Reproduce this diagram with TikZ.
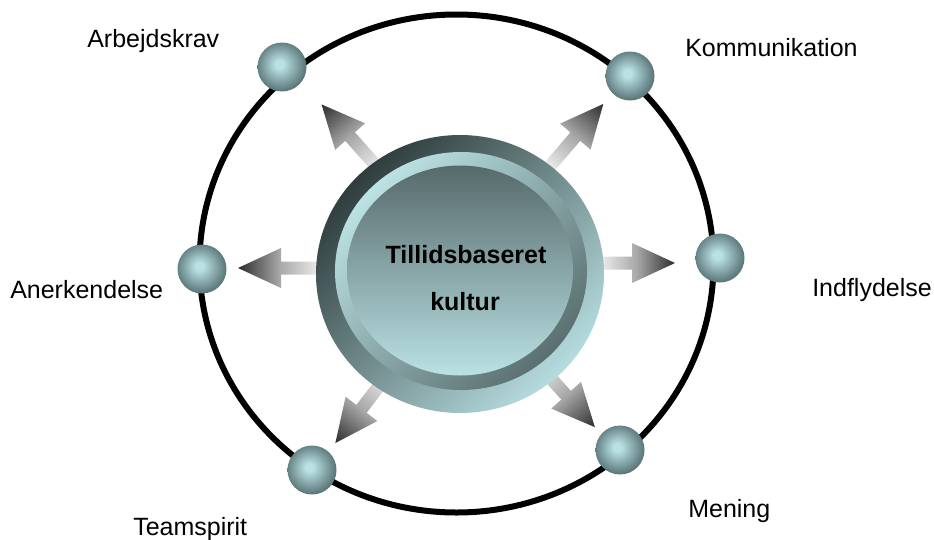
\documentclass[tikz,border=0pt]{standalone}
\usepackage{fontspec}
\setmainfont{Liberation Sans}
\usetikzlibrary{calc}
\definecolor{ballhi}{HTML}{BAE1E3}
\definecolor{ballout}{HTML}{5E7A7D}
\definecolor{arL}{HTML}{EEEEEE}
\definecolor{arM}{HTML}{A6A6A6}
\definecolor{arD}{HTML}{2C2C2C}
\definecolor{discdark}{HTML}{2F3D3D}
\definecolor{disclight}{HTML}{B6DCDF}
\definecolor{bevlight}{HTML}{BCE2E4}
\definecolor{bevdark}{HTML}{5A6F70}
\definecolor{intop}{HTML}{566A6B}
\definecolor{inbot}{HTML}{BAE1E4}
\pgfdeclareradialshading{ballshade}{\pgfpoint{-3bp}{3bp}}{color(0bp)=(ballhi); color(4bp)=(ballhi); color(25bp)=(ballout); color(50bp)=(ballout)}
\pgfdeclarehorizontalshading{arrowshade}{100bp}{color(0bp)=(arL); color(25bp)=(arL); color(50bp)=(arM); color(75bp)=(arD); color(100bp)=(arD)}
\newcommand\gradarrow[3]{%
  \begin{scope}[transform canvas={shift={#1}, rotate=#2}]
    \shade[shading=arrowshade] (0pt,4.875pt) -- ({#3pt-32.25pt},4.875pt) -- ({#3pt-32.25pt},15pt)
      -- (#3pt,0pt) -- ({#3pt-32.25pt},-15pt) -- ({#3pt-32.25pt},-4.875pt) -- (0pt,-4.875pt) -- cycle;
  \end{scope}}
\begin{document}
\begin{tikzpicture}[x=0.75pt, y=-0.75pt,
  ball/.style={circle, inner sep=0pt, minimum size=36.75pt, shade, shading=ballshade},
  lbl/.style={inner sep=0pt, anchor=base west, font=\fontsize{18.75}{22}\selectfont},
  ctr/.style={inner sep=0pt, anchor=base, font=\fontsize{18.75}{22}\selectfont\bfseries}]
\useasboundingbox (0,0) rectangle (934,539);
% outer ring
\coordinate (ringc) at (456.5,263.5);
\draw[line width=4.5pt] (ringc) ellipse [x radius=192.75pt, y radius=186.75pt];
% arrow starts
\coordinate (s1) at (378,168);
\coordinate (s2) at (548,168.5);
\coordinate (s3) at (320,268);
\coordinate (s4) at (600,263);
\coordinate (s5) at (387,375.5);
\coordinate (s6) at (538,364);
\gradarrow{(s1)}{131.6}{63.75}
\gradarrow{(s2)}{49.4}{63.75}
\gradarrow{(s3)}{180}{61.5}
\gradarrow{(s4)}{0}{56.25}
\gradarrow{(s5)}{232.6}{63.75}
\gradarrow{(s6)}{-48}{63.75}
% central disc
\coordinate (dc) at (460,274);
\coordinate (bc) at (461,271);
\coordinate (ic) at (460,270.5);
\shade[top color=discdark, bottom color=disclight, shading angle=45] (dc) ellipse [x radius=108pt, y radius=104.25pt];
\shade[top color=bevlight, bottom color=bevdark, shading angle=45] (bc) ellipse [x radius=94.5pt, y radius=89.25pt];
\shade[top color=intop, bottom color=inbot] (ic) ellipse [x radius=84.75pt, y radius=78.75pt];
\node[ctr] (t1) at (466,263) {Tillidsbaseret};
\node[ctr] (t2) at (465,310) {kultur};
% small balls
\node[ball] (b1) at (282,67) {};
\node[ball] (b2) at (630,76) {};
\node[ball] (b3) at (202,269) {};
\node[ball] (b4) at (720,258) {};
\node[ball] (b5) at (312,470) {};
\node[ball] (b6) at (620,450) {};
% labels
\node[lbl] (l1) at (87,47) {Arbejdskrav};
\node[lbl] (l2) at (685,56) {Kommunikation};
\node[lbl] (l3) at (10,298) {Anerkendelse};
\node[lbl] (l4) at (812,296) {Indflydelse};
\node[lbl] (l5) at (688,517) {Mening};
\node[lbl] (l6) at (133,535) {Teamspirit};
\end{tikzpicture}
\end{document}
